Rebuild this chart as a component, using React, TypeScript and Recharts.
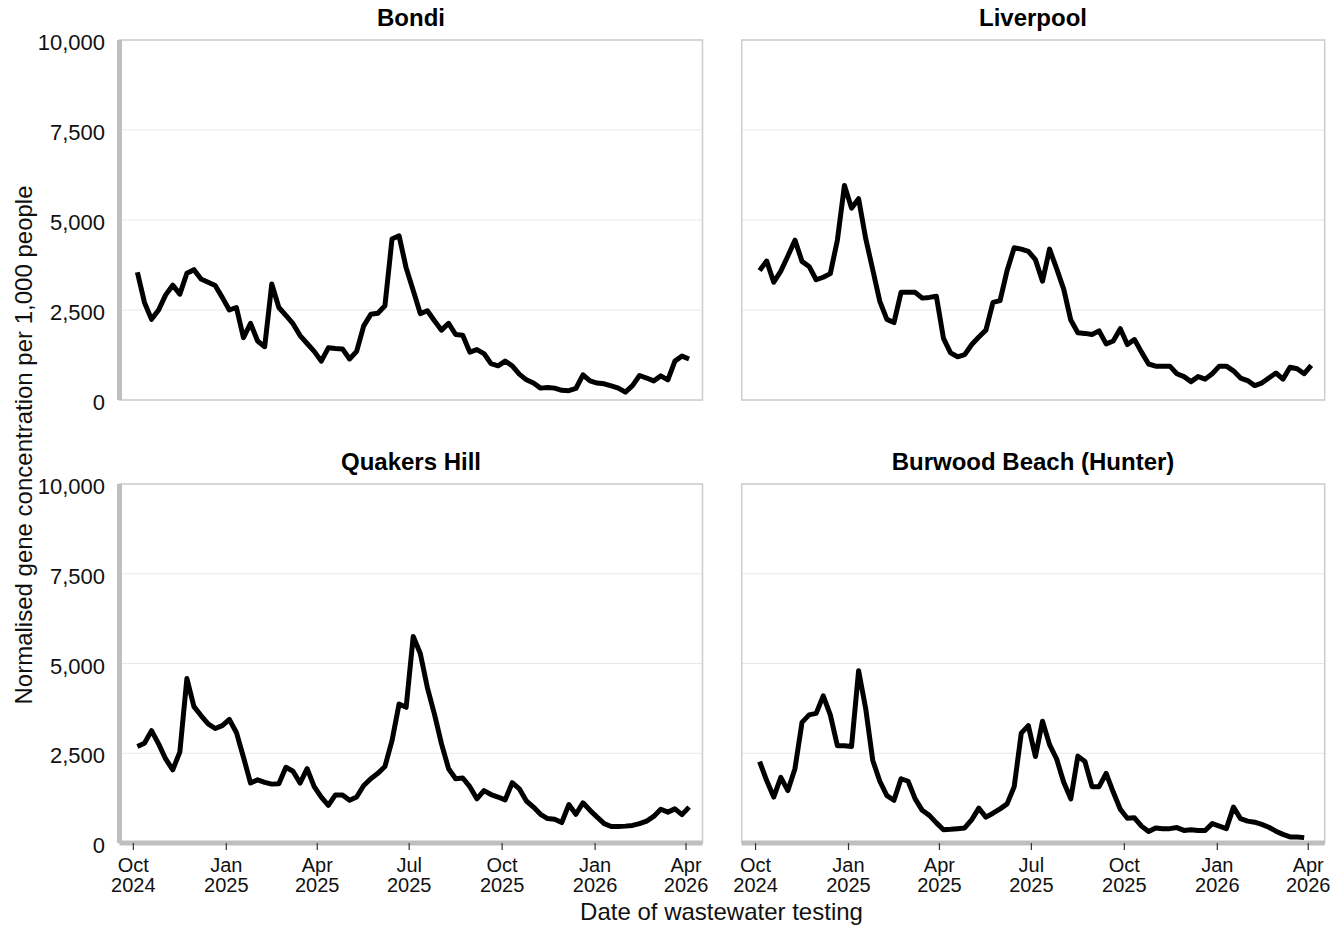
import { LineChart, Line, XAxis, YAxis, CartesianGrid, ReferenceArea } from 'recharts';

// weekly sampling dates (shared by all four sites)
const weeks = [
  '2024-10-05', '2024-10-12', '2024-10-19', '2024-10-26', '2024-11-02', '2024-11-09', '2024-11-16',
  '2024-11-23', '2024-11-30', '2024-12-07', '2024-12-14', '2024-12-21', '2024-12-28', '2025-01-04',
  '2025-01-11', '2025-01-18', '2025-01-25', '2025-02-01', '2025-02-08', '2025-02-15', '2025-02-22',
  '2025-03-01', '2025-03-08', '2025-03-15', '2025-03-22', '2025-03-29', '2025-04-05', '2025-04-12',
  '2025-04-19', '2025-04-26', '2025-05-03', '2025-05-10', '2025-05-17', '2025-05-24', '2025-05-31',
  '2025-06-07', '2025-06-14', '2025-06-21', '2025-06-28', '2025-07-05', '2025-07-12', '2025-07-19',
  '2025-07-26', '2025-08-02', '2025-08-09', '2025-08-16', '2025-08-23', '2025-08-30', '2025-09-06',
  '2025-09-13', '2025-09-20', '2025-09-27', '2025-10-04', '2025-10-11', '2025-10-18', '2025-10-25',
  '2025-11-01', '2025-11-08', '2025-11-15', '2025-11-22', '2025-11-29', '2025-12-06', '2025-12-13',
  '2025-12-20', '2025-12-27', '2026-01-03', '2026-01-10', '2026-01-17', '2026-01-24', '2026-01-31',
  '2026-02-07', '2026-02-14', '2026-02-21', '2026-02-28', '2026-03-07', '2026-03-14', '2026-03-21',
  '2026-03-28', '2026-04-04',
];

const bondi = [
  3550, 2710, 2240, 2500, 2920, 3190, 2940, 3520, 3620, 3360,
  3270, 3180, 2850, 2500, 2570, 1730, 2130, 1640, 1480, 3220,
  2570, 2350, 2120, 1790, 1570, 1350, 1080, 1450, 1430, 1420,
  1140, 1350, 2060, 2380, 2410, 2620, 4470, 4560, 3670, 3040,
  2400, 2480, 2200, 1940, 2130, 1820, 1800, 1330, 1400, 1290,
  1010, 950, 1080, 950, 720, 560, 470, 330, 350, 330,
  270, 260, 320, 700, 530, 470, 450, 390, 330, 220,
  400, 680, 610, 530, 670, 560, 1080, 1220, 1140,
];

const liverpool = [
  3600, 3860, 3270, 3580, 4000, 4440, 3850, 3710, 3340, 3410,
  3510, 4440, 5960, 5330, 5590, 4490, 3620, 2740, 2240, 2150,
  2990, 2990, 2990, 2830, 2850, 2880, 1710, 1310, 1200, 1260,
  1540, 1750, 1940, 2710, 2760, 3600, 4230, 4190, 4130, 3900,
  3300, 4190, 3650, 3080, 2220, 1870, 1850, 1820, 1920, 1560,
  1640, 1980, 1540, 1680, 1330, 1000, 940, 940, 940, 730,
  650, 510, 650, 580, 730, 940, 940, 810, 610, 540,
  400, 470, 610, 750, 580, 910, 870, 730, 960,
];

const quakersHill = [
  2690, 2780, 3130, 2760, 2340, 2040, 2530, 4580, 3800, 3550,
  3320, 3190, 3270, 3440, 3080, 2390, 1670, 1760, 1690, 1640,
  1650, 2110, 2000, 1670, 2070, 1570, 1280, 1050, 1340, 1340,
  1190, 1280, 1600, 1790, 1940, 2130, 2850, 3870, 3780, 5750,
  5280, 4330, 3590, 2760, 2070, 1790, 1810, 1570, 1230, 1460,
  1350, 1280, 1200, 1680, 1510, 1170, 1000, 800, 680, 660,
  570, 1070, 800, 1120, 910, 720, 540, 460, 460, 470,
  490, 540, 610, 740, 940, 860, 950, 790, 1000,
];

const burwoodBeach = [
  2270, 1740, 1280, 1830, 1460, 2070, 3360, 3570, 3610, 4100,
  3570, 2710, 2710, 2690, 4800, 3750, 2300, 1720, 1320, 1190,
  1790, 1720, 1230, 910, 770, 560, 370, 380, 400, 420,
  650, 970, 720, 830, 950, 1090, 1570, 3060, 3270, 2410,
  3390, 2740, 2340, 1690, 1230, 2420, 2270, 1570, 1570, 1940,
  1420, 940, 690, 700, 470, 320, 420, 400, 400, 430,
  350, 370, 350, 350, 540, 470, 400, 1000, 680, 610,
  580, 520, 440, 330, 240, 170, 170, 150,
];

const yTicks = [0, 2500, 5000, 7500, 10000];
const xTickDates = ['2024-10-01', '2025-01-01', '2025-04-01', '2025-07-01', '2025-10-01', '2026-01-01', '2026-04-01'];
const monthNames = ['Jan', 'Feb', 'Mar', 'Apr', 'May', 'Jun', 'Jul', 'Aug', 'Sep', 'Oct', 'Nov', 'Dec'];

const FONT = '"Liberation Sans", Arial, Helvetica, sans-serif';
const DAY = 86400000;
const toTime = (s: string) => Date.parse(s + 'T00:00:00Z');
const xTicks = xTickDates.map(toTime);
const xDomain: [number, number] = [xTicks[0] - 13.7 * DAY, xTicks[xTicks.length - 1] + 16.3 * DAY];

const AXIS_GREY = '#bfbfbf';
const FRAME_GREY = '#cdcdcd';
const GRID_GREY = '#e8e8e8';

function XTick(props: any) {
  const { x, y, payload } = props;
  const d = new Date(payload.value);
  return (
    <text x={x} y={y} textAnchor="middle" fontSize={20} fontFamily={FONT} fill="#111">
      <tspan x={x} dy={22}>{monthNames[d.getUTCMonth()]}</tspan>
      <tspan x={x} dy={20}>{d.getUTCFullYear()}</tspan>
    </text>
  );
}

function YTick(props: any) {
  const { x, y, payload } = props;
  return (
    <text x={x} y={y + 10} textAnchor="end" fontSize={22} fontFamily={FONT} fill="#111">
      {Number(payload.value).toLocaleString('en-US')}
    </text>
  );
}

interface PanelProps {
  values: number[];
  left: number;
  top: number;
  showY: boolean;
  showX: boolean;
}

function Panel({ values, left, top, showY, showX }: PanelProps) {
  const data = values.map((v, i) => ({ t: toTime(weeks[i]), v }));
  const width = showY ? 720 : 622;
  const height = showX ? 463 : 420;
  const margin = {
    top: showX ? 44 : 40,
    right: showY ? 17.5 : 17.3,
    bottom: showX ? 0 : 20,
    left: showY ? 0 : 21.7,
  };
  return (
    <div style={{ position: 'absolute', left, top }}>
      <LineChart width={width} height={height} data={data} margin={margin}>
        <CartesianGrid vertical={false} stroke={GRID_GREY} strokeWidth={1} />
        <ReferenceArea
          x1={xDomain[0]} x2={xDomain[1]} y1={0} y2={10000}
          fill="none" stroke={FRAME_GREY} strokeWidth={1.5} fillOpacity={0}
        />
        <XAxis
          dataKey="t"
          type="number"
          domain={xDomain}
          ticks={xTicks}
          interval={0}
          allowDataOverflow
          hide={!showX}
          height={60}
          axisLine={{ stroke: AXIS_GREY, strokeWidth: 5 }}
          tickLine={{ stroke: '#333', strokeWidth: 1.2 }}
          tickSize={7}
          tickMargin={0}
          tick={(p: any) => <XTick {...p} />}
        />
        <YAxis
          type="number"
          domain={[0, 10000]}
          ticks={yTicks}
          interval={0}
          hide={!showY}
          width={119.5}
          axisLine={{ stroke: AXIS_GREY, strokeWidth: 5 }}
          tickLine={false}
          tickSize={0}
          tickMargin={14.5}
          tick={(p: any) => <YTick {...p} />}
        />
        <Line
          type="linear"
          dataKey="v"
          stroke="#000"
          strokeWidth={5}
          strokeLinejoin="round"
          dot={false}
          activeDot={false}
          isAnimationActive={false}
        />
      </LineChart>
    </div>
  );
}

export default function App() {
  return (
    <div style={{ position: 'absolute', left: 0, top: 0, width: 1344, height: 928, background: '#fff', overflow: 'hidden', fontFamily: FONT }}>
      <Panel values={bondi} left={0} top={0} showY showX={false} />
      <Panel values={liverpool} left={720} top={0} showY={false} showX={false} />
      <Panel values={quakersHill} left={0} top={440} showY showX />
      <Panel values={burwoodBeach} left={720} top={440} showY={false} showX />
      <svg width={1344} height={928} style={{ position: 'absolute', left: 0, top: 0, pointerEvents: 'none' }}>
        <g fontFamily={FONT} fill="#000" textAnchor="middle">
          <text x={411} y={26} fontSize={24} fontWeight="bold">Bondi</text>
          <text x={1033} y={26} fontSize={24} fontWeight="bold">Liverpool</text>
          <text x={411} y={470} fontSize={24} fontWeight="bold">Quakers Hill</text>
          <text x={1033} y={470} fontSize={24} fontWeight="bold">Burwood Beach (Hunter)</text>
          <text x={721.5} y={919.5} fontSize={24} fill="#111">Date of wastewater testing</text>
          <text transform="translate(31.5 445) rotate(-90)" fontSize={24} fill="#111">
            Normalised gene concentration per 1,000 people
          </text>
        </g>
      </svg>
    </div>
  );
}
